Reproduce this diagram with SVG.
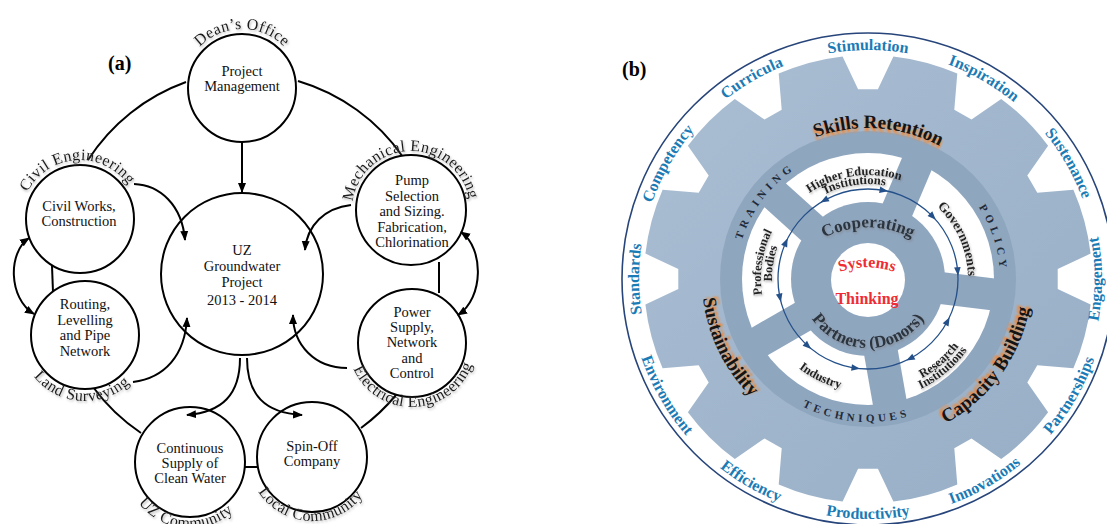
<svg xmlns="http://www.w3.org/2000/svg" width="1107" height="524" viewBox="0 0 1107 524">
<style>
.nt{font-family:"Liberation Serif","Times New Roman",serif;font-size:14.5px;fill:#111;text-anchor:middle}
.lb{font-family:"Liberation Serif","Times New Roman",serif;font-size:16px;fill:#1a1a1a;letter-spacing:0.4px}
.nc{fill:#fff;stroke:#000;stroke-width:2}
.cn{fill:none;stroke:#000;stroke-width:2}
.pl{font-family:"Liberation Serif","Times New Roman",serif;font-size:20px;font-weight:bold;fill:#000}
.ob{font-family:"Liberation Serif","Times New Roman",serif;font-size:16px;font-weight:bold;fill:#1b7bb5}
.big{font-family:"Liberation Serif","Times New Roman",serif;font-size:19px;font-weight:bold;fill:#141414}
.bigs{font-family:"Liberation Serif","Times New Roman",serif;font-size:19px;font-weight:bold;fill:#f5842c}
.seg{font-family:"Liberation Serif","Times New Roman",serif;font-size:12.5px;font-weight:bold;fill:#222}
.rg{font-family:"Liberation Serif","Times New Roman",serif;font-size:11px;font-weight:bold;fill:#1e2a38;letter-spacing:4.4px}
.hub{font-family:"Liberation Serif","Times New Roman",serif;font-size:17px;font-weight:bold;fill:#2b3440}
.red{font-family:"Liberation Serif","Times New Roman",serif;font-size:16px;font-weight:bold;fill:#ef2b35;text-anchor:middle}
.hk{fill:#8fa6bf}
</style>
<defs>
<marker id="arr" viewBox="0 0 10 10" refX="9" refY="5" markerWidth="10" markerHeight="10" markerUnits="userSpaceOnUse" orient="auto-start-reverse">
<path d="M0,1 L10,5 L0,9 Z" fill="#000"/>
</marker>
<filter id="sh" x="-10%" y="-20%" width="120%" height="150%">
<feDropShadow dx="1" dy="1.6" stdDeviation="1" flood-color="#777" flood-opacity="0.55"/>
</filter>
<filter id="bl" x="-10%" y="-30%" width="120%" height="160%"><feGaussianBlur stdDeviation="1.1"/></filter>
<linearGradient id="gg" x1="0" y1="0" x2="1" y2="1">
<stop offset="0" stop-color="#aabed3"/><stop offset="1" stop-color="#97aec6"/>
</linearGradient>
<path id="bah" d="M4.5,0 L-4,-3.3 L-4,3.3 Z" fill="#24508a"/>
<!-- panel a label paths -->
<path id="pDean" d="M183.90,98.24 A59 59 0 1 1 300.10,98.24"/>
<path id="pCivil" d="M22.75,233.27 A59 59 0 1 1 138.68,225.17"/>
<path id="pMech" d="M353.08,221.26 A59 59 0 1 1 469.27,219.23"/>
<path id="pLand" d="M20.96,319.03 A66 66 0 1 0 150.64,328.10"/>
<path id="pElec" d="M348.62,334.09 A64 64 0 1 0 474.60,329.69"/>
<path id="pUZC" d="M126.25,444.92 A66 66 0 1 0 255.75,456.25"/>
<path id="pLoc" d="M249.40,443.69 A64 64 0 1 0 375.38,448.09"/>
<!-- panel b paths -->
<path id="pOutCW" d="M868,508 A229 229 0 1 1 868,50 A229 229 0 1 1 868,508"/>
<path id="pOutCCW" d="M868,39 A240 240 0 1 0 868,519 A240 240 0 1 0 868,39"/>
<path id="pEng" d="M868,45 A234 234 0 1 0 868,513 A234 234 0 1 0 868,45"/>
<path id="pSkill" d="M717.83,294.78 A151 151 0 1 1 1014.52,315.53"/>
<path id="pSust" d="M822.25,119.42 A166 166 0 1 0 965.57,413.29"/>
<path id="pCap" d="M750.03,392.93 A164 164 0 1 0 939.90,131.60"/>
<path id="pTrain" d="M808.07,396.61 A132 132 0 1 1 964.54,188.98"/>
<path id="pPol" d="M806.03,162.46 A132 132 0 1 1 886.37,409.72"/>
<path id="pTech" d="M729.88,241.99 A143 143 0 1 0 1010.46,266.53"/>
<path id="pHE" d="M769.09,311.14 A104 104 0 1 1 971.94,282.63"/>
<path id="pHI" d="M777.65,308.36 A95 95 0 1 1 962.94,282.32"/>
<path id="pGov" d="M812.08,196.10 A100 100 0 1 1 892.19,376.03"/>
<path id="pRes" d="M771.14,337.20 A113 113 0 1 0 939.11,191.19"/>
<path id="pRI" d="M762.35,340.00 A122 122 0 1 0 946.42,185.55"/>
<path id="pInd" d="M776.58,212.58 A113 113 0 1 0 976.63,310.14"/>
<path id="pProf" d="M869.87,385.98 A107 107 0 1 1 902.84,177.83"/>
<path id="pBod" d="M869.68,374.98 A96 96 0 1 1 899.26,188.23"/>
<path id="pPart" d="M800.05,267.02 A69 69 0 1 0 935.95,267.02"/>
<path id="pCoop" d="M815,243 A98 98 0 0 1 921,243"/>
<path id="pSys" d="M830,276 A83 83 0 0 1 904,276"/>
</defs>

<rect width="1107" height="524" fill="#fff"/>

<!-- ================= PANEL (a) ================= -->
<text class="pl" x="108" y="70">(a)</text>

<g id="ring-links">
<path class="cn" d="M186,82 A195 195 0 0 0 88,160"/>
<path class="cn" d="M298,81 A195 195 0 0 1 403,157"/>
<path class="cn" d="M52,266 L53,292"/>
<path class="cn" d="M439,262 L439,293"/>
<path class="cn" d="M93,387 A195 195 0 0 0 141,433"/>
<path class="cn" d="M244,467 L259,467"/>
<path class="cn" d="M361,428 A195 195 0 0 0 396,395"/>
</g>

<g id="node-pm">
<circle class="nc" cx="242" cy="88" r="54"/>
<text class="nt" x="242" y="76">Project</text>
<text class="nt" x="242" y="91">Management</text>
<text class="lb" filter="url(#sh)"><textPath href="#pDean" startOffset="50%" text-anchor="middle">Dean’s Office</textPath></text>
</g>
<g id="node-uz">
<circle class="nc" cx="242" cy="274" r="81"/>
<text class="nt" x="242" y="255">UZ</text>
<text class="nt" x="242" y="271">Groundwater</text>
<text class="nt" x="242" y="287">Project</text>
<text class="nt" x="242" y="305">2013 - 2014</text>
</g>
<g id="node-civil">
<circle class="nc" cx="80" cy="219" r="54"/>
<text class="nt" x="79" y="211">Civil Works,</text>
<text class="nt" x="79" y="226">Construction</text>
<text class="lb" filter="url(#sh)"><textPath href="#pCivil" startOffset="50%" text-anchor="middle">Civil Engineering</textPath></text>
</g>
<g id="node-routing">
<circle class="nc" cx="85" cy="335" r="54"/>
<text class="nt" x="85" y="309">Routing,</text>
<text class="nt" x="85" y="325">Levelling</text>
<text class="nt" x="85" y="340">and Pipe</text>
<text class="nt" x="85" y="356">Network</text>
<text class="lb" filter="url(#sh)"><textPath href="#pLand" startOffset="50%" text-anchor="middle">Land Surveying</textPath></text>
</g>
<g id="node-pump">
<circle class="nc" cx="411" cy="210" r="55"/>
<text class="nt" x="412" y="185">Pump</text>
<text class="nt" x="412" y="201">Selection</text>
<text class="nt" x="412" y="216">and Sizing.</text>
<text class="nt" x="412" y="232">Fabrication,</text>
<text class="nt" x="412" y="247">Chlorination</text>
<text class="lb" filter="url(#sh)"><textPath href="#pMech" startOffset="50%" text-anchor="middle">Mechanical Engineering</textPath></text>
</g>
<g id="node-power">
<circle class="nc" cx="412" cy="343" r="54"/>
<text class="nt" x="412" y="317">Power</text>
<text class="nt" x="412" y="332">Supply,</text>
<text class="nt" x="412" y="347">Network</text>
<text class="nt" x="412" y="363">and</text>
<text class="nt" x="412" y="378">Control</text>
<text class="lb" filter="url(#sh)"><textPath href="#pElec" startOffset="50%" text-anchor="middle">Electrical Engineering</textPath></text>
</g>
<g id="node-water">
<circle class="nc" cx="190" cy="462" r="55"/>
<text class="nt" x="190" y="453">Continuous</text>
<text class="nt" x="190" y="468">Supply of</text>
<text class="nt" x="190" y="483">Clean Water</text>
<text class="lb" filter="url(#sh)"><textPath href="#pUZC" startOffset="50%" text-anchor="middle">UZ Community</textPath></text>
</g>
<g id="node-spinoff">
<circle class="nc" cx="312" cy="457" r="55"/>
<text class="nt" x="312" y="451">Spin-Off</text>
<text class="nt" x="312" y="466">Company</text>
<text class="lb" filter="url(#sh)"><textPath href="#pLoc" startOffset="50%" text-anchor="middle">Local Community</textPath></text>
</g>

<g id="connectors">
<path class="cn" d="M242,142 L242,192" marker-end="url(#arr)"/>
<path class="cn" d="M134,184 C160,185 182,205 185,240" marker-end="url(#arr)"/>
<path class="cn" d="M351,205 C325,208 307,225 305,250" marker-end="url(#arr)"/>
<path class="cn" d="M133,382 C165,378 185,355 187,318" marker-end="url(#arr)"/>
<path class="cn" d="M347,368 C315,368 293,345 293,315" marker-end="url(#arr)"/>
<path class="cn" d="M240,358 C240,395 222,412 187,415" marker-end="url(#arr)"/>
<path class="cn" d="M247,358 C247,395 265,413 302,415" marker-end="url(#arr)"/>
<path class="cn" d="M29,238 C8,252 8,298 34,314" marker-start="url(#arr)" marker-end="url(#arr)"/>
<path class="cn" d="M461,232 C484,248 484,298 458,315" marker-start="url(#arr)" marker-end="url(#arr)"/>
</g>

<!-- ================= PANEL (b) ================= -->
<g id="panel-b">
<text class="pl" x="622" y="76">(b)</text>
<circle cx="868" cy="279" r="246" fill="none" stroke="#27457a" stroke-width="1.6"/>
<path id="gear" fill="url(#gg)" d="M877.9,89.3 L893.4,56.4 A224 224 0 0 1 957.3,73.6 L954.3,109.7 L971.5,119.6 L1001.2,98.9 A224 224 0 0 1 1048.1,145.8 L1027.3,175.5 L1037.3,192.7 L1073.4,189.7 A224 224 0 0 1 1090.6,253.6 L1057.7,269.1 L1057.7,288.9 L1090.6,304.4 A224 224 0 0 1 1073.4,368.3 L1037.3,365.3 L1027.3,382.5 L1048.1,412.2 A224 224 0 0 1 1001.2,459.1 L971.5,438.4 L954.3,448.3 L957.3,484.4 A224 224 0 0 1 893.4,501.6 L877.9,468.7 L858.1,468.7 L842.6,501.6 A224 224 0 0 1 778.7,484.4 L781.7,448.3 L764.5,438.4 L734.8,459.1 A224 224 0 0 1 687.9,412.2 L708.7,382.5 L698.7,365.3 L662.6,368.3 A224 224 0 0 1 645.4,304.4 L678.3,288.9 L678.3,269.1 L645.4,253.6 A224 224 0 0 1 662.6,189.7 L698.7,192.7 L708.7,175.5 L687.9,145.8 A224 224 0 0 1 734.8,98.9 L764.5,119.6 L781.7,109.7 L778.7,73.6 A224 224 0 0 1 842.6,56.4 L858.1,89.3 Z"/>
<circle class="hk" cx="868" cy="279" r="148"/>
<circle cx="868" cy="279" r="126" fill="#fff"/>
<circle class="hk" cx="868" cy="279" r="77"/>
<g transform="translate(868,279)" class="hk">
<rect x="-16" y="-130" width="32" height="62" transform="rotate(23)"/>
<rect x="-16" y="-130" width="32" height="62" transform="rotate(97)"/>
<rect x="-17" y="-130" width="34" height="62" transform="rotate(170)"/>
<rect x="-16" y="-130" width="32" height="62" transform="rotate(240)"/>
<rect x="-16" y="-130" width="32" height="62" transform="rotate(312)"/>
</g>
<circle cx="868" cy="280" r="37" fill="#fff"/>
<circle cx="868" cy="279" r="90" fill="none" stroke="#24508a" stroke-width="1.3"/>
<g id="cycle-arrows">
<use href="#bah" transform="translate(824.4,200.3) rotate(151)"/>
<use href="#bah" transform="translate(883.6,190.4) rotate(10)"/>
<use href="#bah" transform="translate(932.7,216.5) rotate(46)"/>
<use href="#bah" transform="translate(957.7,271.2) rotate(85)"/>
<use href="#bah" transform="translate(947.5,321.3) rotate(298)"/>
<use href="#bah" transform="translate(910.3,358.5) rotate(152)"/>
<use href="#bah" transform="translate(855.5,368.1) rotate(8)"/>
<use href="#bah" transform="translate(807.8,345.9) rotate(42)"/>
<use href="#bah" transform="translate(780.0,297.7) rotate(78)"/>
<use href="#bah" transform="translate(785.8,242.4) rotate(294)"/>
</g>

<!-- outer words -->
<text class="ob"><textPath href="#pOutCW" startOffset="25%" text-anchor="middle">Standards</textPath></text>
<text class="ob"><textPath href="#pOutCW" startOffset="33.33%" text-anchor="middle">Competency</textPath></text>
<text class="ob"><textPath href="#pOutCW" startOffset="41.67%" text-anchor="middle">Curricula</textPath></text>
<text class="ob"><textPath href="#pOutCW" startOffset="50%" text-anchor="middle">Stimulation</textPath></text>
<text class="ob"><textPath href="#pOutCW" startOffset="58.33%" text-anchor="middle">Inspiration</textPath></text>
<text class="ob"><textPath href="#pOutCW" startOffset="66.67%" text-anchor="middle">Sustenance</textPath></text>
<text class="ob"><textPath href="#pEng" startOffset="75%" text-anchor="middle">Engagement</textPath></text>
<text class="ob"><textPath href="#pOutCCW" startOffset="66.67%" text-anchor="middle">Partnerships</textPath></text>
<text class="ob"><textPath href="#pOutCCW" startOffset="58.33%" text-anchor="middle">Innovations</textPath></text>
<text class="ob"><textPath href="#pOutCCW" startOffset="50%" text-anchor="middle">Productivity</textPath></text>
<text class="ob"><textPath href="#pOutCCW" startOffset="41.67%" text-anchor="middle">Efficiency</textPath></text>
<text class="ob"><textPath href="#pOutCCW" startOffset="33.33%" text-anchor="middle">Environment</textPath></text>

<!-- big orange-shadowed words -->
<text class="bigs" filter="url(#bl)" transform="translate(0,3)"><textPath href="#pSkill" startOffset="50%" text-anchor="middle">Skills Retention</textPath></text>
<text class="big"><textPath href="#pSkill" startOffset="50%" text-anchor="middle">Skills Retention</textPath></text>
<text class="bigs" filter="url(#bl)" transform="translate(2.7,-1.3)"><textPath href="#pSust" startOffset="50%" text-anchor="middle">Sustainability</textPath></text>
<text class="big"><textPath href="#pSust" startOffset="50%" text-anchor="middle">Sustainability</textPath></text>
<text class="bigs" filter="url(#bl)" transform="translate(-2.4,-1.8)"><textPath href="#pCap" startOffset="50%" text-anchor="middle">Capacity Building</textPath></text>
<text class="big"><textPath href="#pCap" startOffset="50%" text-anchor="middle">Capacity Building</textPath></text>

<!-- ring words -->
<text class="rg"><textPath href="#pTrain" startOffset="50%" text-anchor="middle">TRAINING</textPath></text>
<text class="rg"><textPath href="#pPol" startOffset="50%" text-anchor="middle">POLICY</textPath></text>
<text class="rg" style="letter-spacing:3.8px"><textPath href="#pTech" startOffset="50%" text-anchor="middle">TECHNIQUES</textPath></text>

<!-- segment words -->
<g filter="url(#sh)">
<text class="seg"><textPath href="#pHE" startOffset="50%" text-anchor="middle">Higher Education</textPath></text>
<text class="seg"><textPath href="#pHI" startOffset="50%" text-anchor="middle">Institutions</textPath></text>
<text class="seg" style="font-size:13.5px"><textPath href="#pGov" startOffset="50%" text-anchor="middle">Governments</textPath></text>
<text class="seg"><textPath href="#pRes" startOffset="50%" text-anchor="middle">Research</textPath></text>
<text class="seg"><textPath href="#pRI" startOffset="50%" text-anchor="middle">Institutions</textPath></text>
<text class="seg"><textPath href="#pInd" startOffset="50%" text-anchor="middle">Industry</textPath></text>
<text class="seg"><textPath href="#pProf" startOffset="50%" text-anchor="middle">Professional</textPath></text>
<text class="seg"><textPath href="#pBod" startOffset="50%" text-anchor="middle">Bodies</textPath></text>
<text class="hub"><textPath href="#pCoop" startOffset="50%" text-anchor="middle">Cooperating</textPath></text>
<text class="hub"><textPath href="#pPart" startOffset="50%" text-anchor="middle">Partners (Donors)</textPath></text>
</g>
<text class="red"><textPath href="#pSys" startOffset="50%" text-anchor="middle">Systems</textPath></text>
<text class="red" x="867" y="304">Thinking</text>
</g>
</svg>
